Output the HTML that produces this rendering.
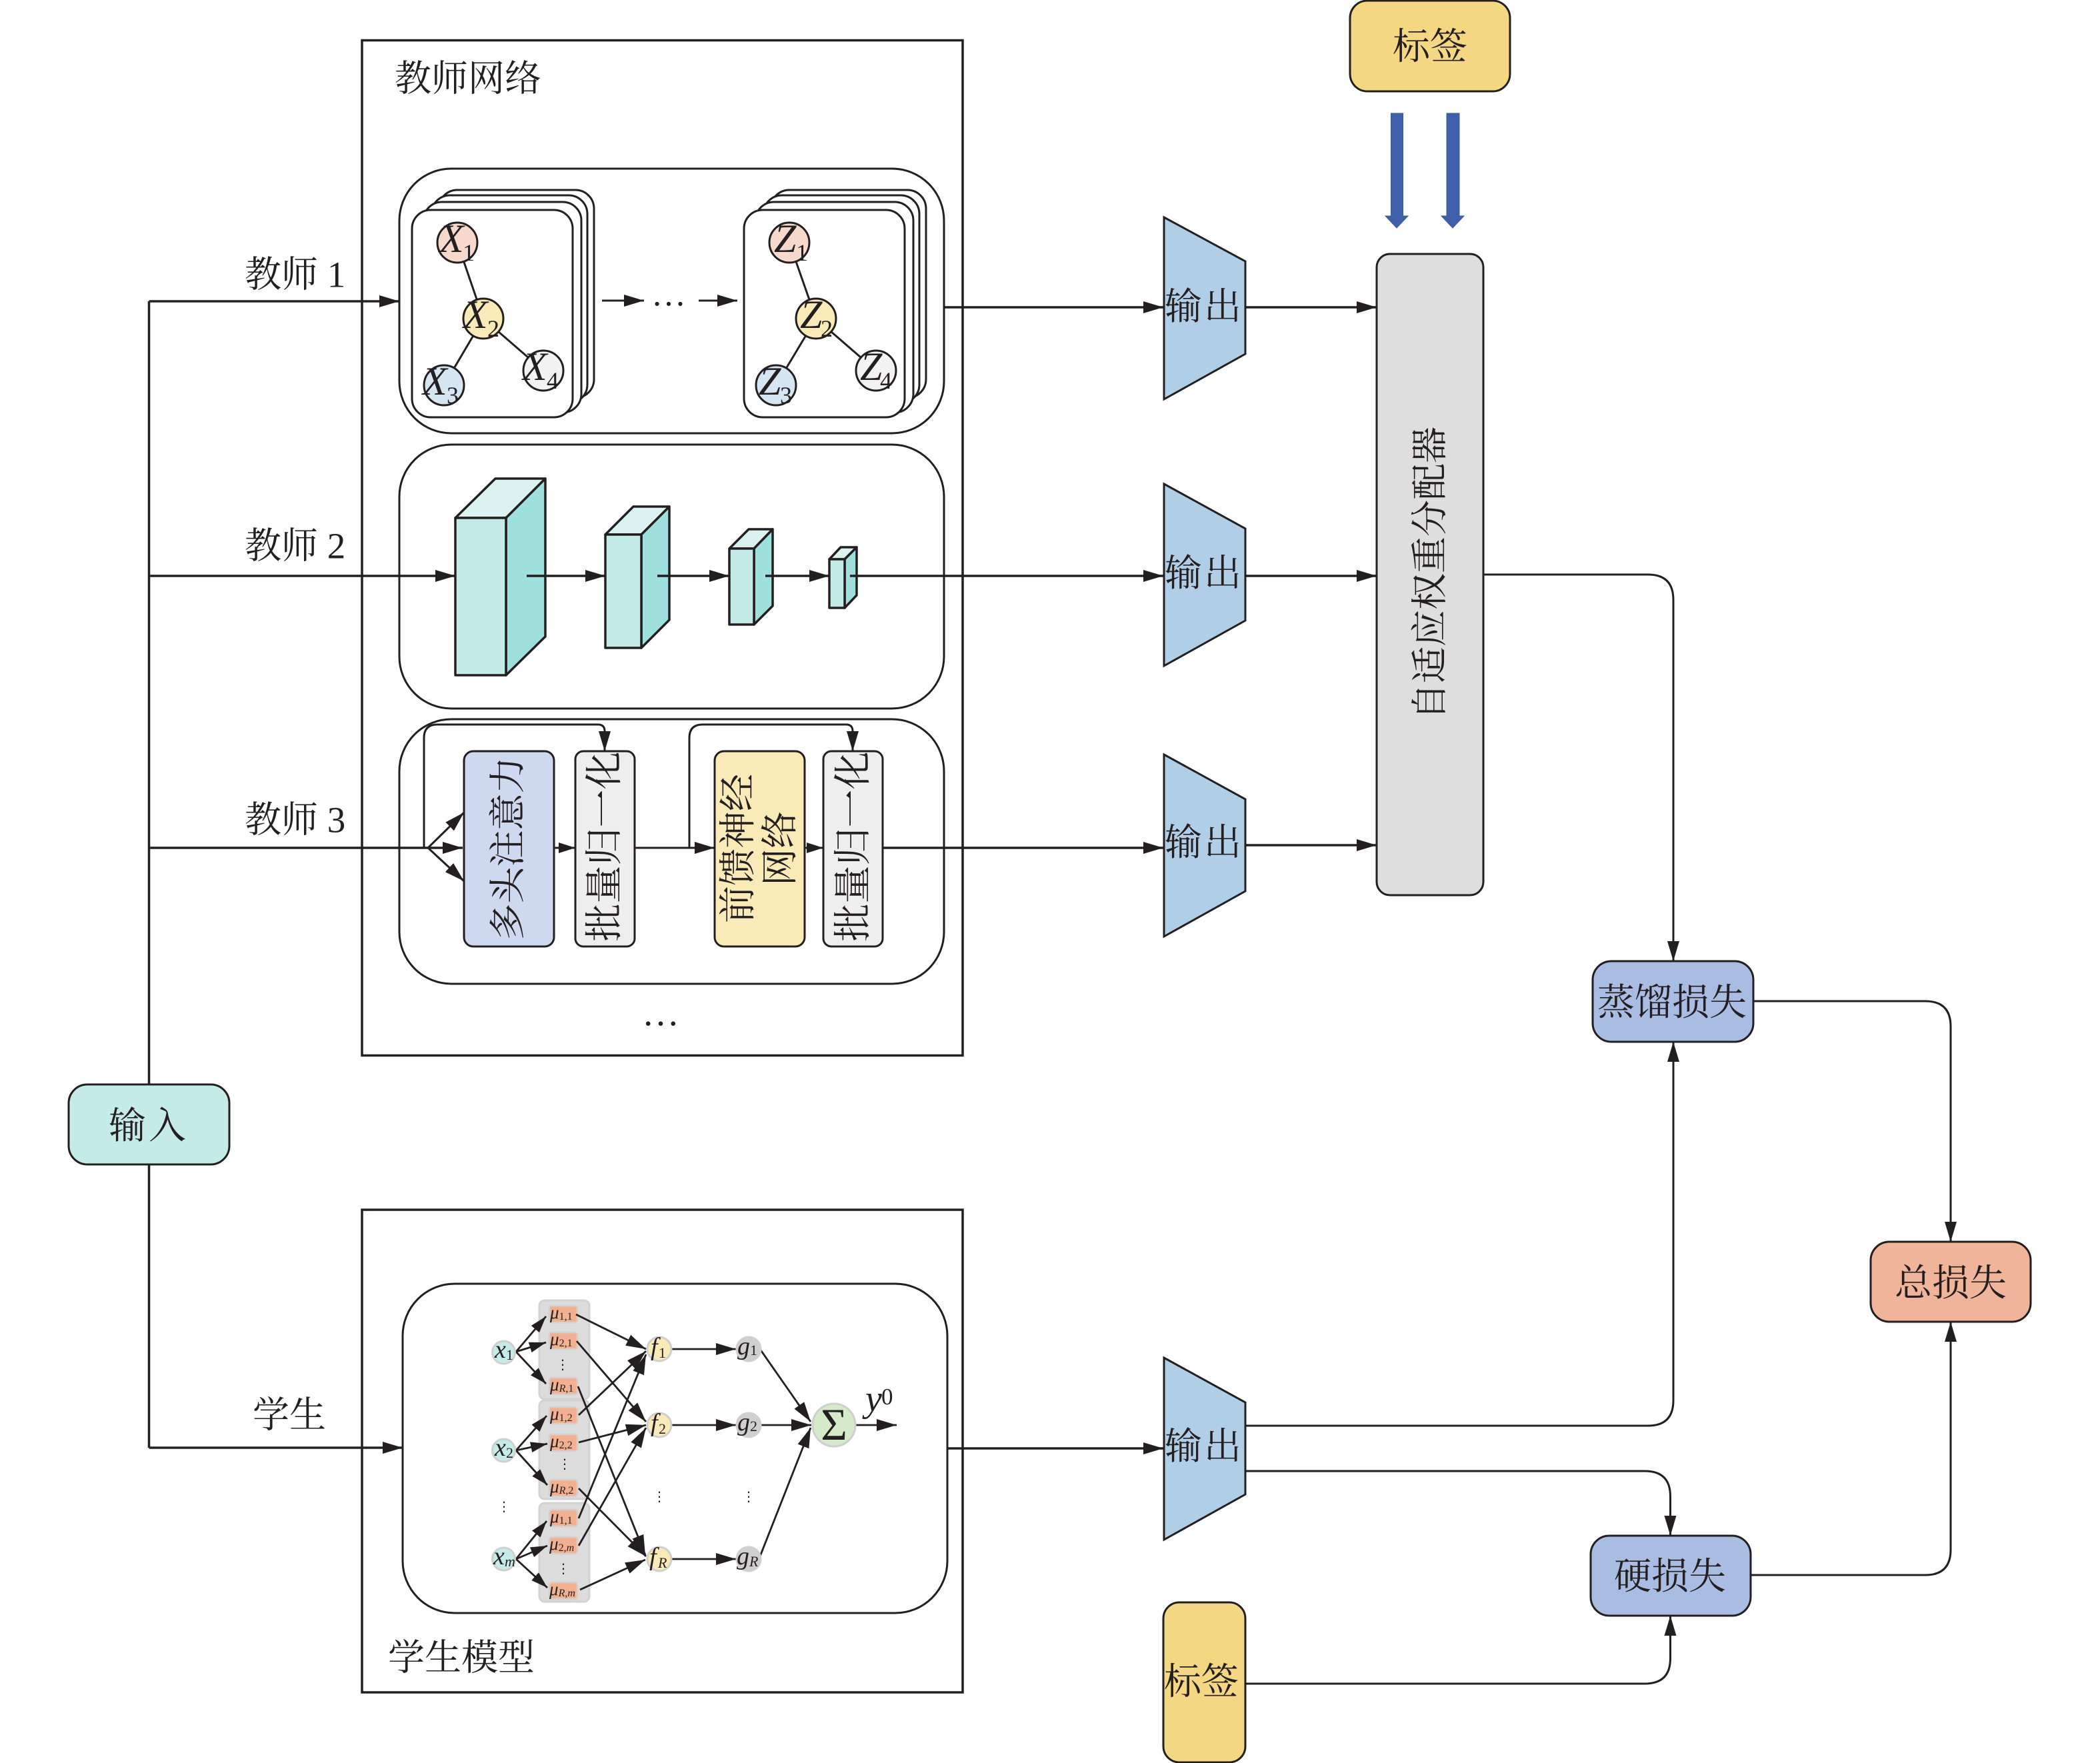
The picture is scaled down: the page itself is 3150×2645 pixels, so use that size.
<!DOCTYPE html>
<html lang="zh"><head><meta charset="utf-8"><title>diagram</title>
<style>
html,body{margin:0;padding:0;background:#fff}
svg{display:block}
text{font-family:"Liberation Serif","Noto Serif CJK SC",serif;fill:#231f20}
.c{font-size:56px;text-anchor:middle;dominant-baseline:central}
.l{font-size:55px;dominant-baseline:central}
.i{font-style:italic}
.v{font-family:"DejaVu Sans",sans-serif;font-size:20px;text-anchor:middle;dominant-baseline:central}
</style></head><body>
<svg xmlns="http://www.w3.org/2000/svg" width="3150" height="2645" viewBox="0 0 3150 2645">
<defs>
<marker id="a" markerUnits="userSpaceOnUse" markerWidth="32" markerHeight="18" refX="30" refY="9" orient="auto"><path d="M0 0L30 9L0 18Z" fill="#231f20"/></marker>
<marker id="s" markerUnits="userSpaceOnUse" markerWidth="26" markerHeight="16" refX="25" refY="8" orient="auto"><path d="M0 0L25 8L0 16Z" fill="#231f20"/></marker>
</defs>
<rect width="3150" height="2645" fill="#fff"/>

<g fill="none" stroke="#231f20" stroke-width="3">
<rect x="543" y="60.500" width="901" height="1523" stroke-width="3.500"/>
<rect x="543" y="1815" width="901" height="724" stroke-width="3.500"/>
<rect x="599" y="253" width="817" height="397" rx="78"/>
<rect x="599" y="667" width="817" height="396" rx="78"/>
<rect x="599" y="1079" width="817" height="397" rx="78"/>
<rect x="604" y="1926" width="817" height="494" rx="78"/>
</g>

<g fill="none" stroke="#231f20" stroke-width="3.500">
<path d="M223.500 1626V452"/>
<path d="M223.500 1747V2172"/>
<path d="M223.500 452H599" marker-end="url(#a)"/>
<path d="M223.500 864H683" marker-end="url(#a)"/>
<path d="M223.500 1272H694" marker-end="url(#a)"/>
<path d="M223.500 2172H604" marker-end="url(#a)"/>
<path d="M1417 461H1745" marker-end="url(#a)"/>
<path d="M1868 461H2065" marker-end="url(#a)"/>
<path d="M1868 864H2065" marker-end="url(#a)"/>
<path d="M1868 1268H2065" marker-end="url(#a)"/>
<path d="M1421 2173H1745" marker-end="url(#a)"/>
<path d="M1324 1272H1745" marker-end="url(#a)"/>
</g>
<g fill="none" stroke="#231f20" stroke-width="3">
<path d="M2225 862H2472Q2510 862 2510 900V1442" marker-end="url(#a)"/>
<path d="M2630 1502H2888Q2926 1502 2926 1540V1863" marker-end="url(#a)"/>
<path d="M1868 2139H2472Q2510 2139 2510 2101V1563" marker-end="url(#a)"/>
<path d="M1868 2207H2467Q2505.500 2207 2505.500 2245V2304" marker-end="url(#a)"/>
<path d="M1860 2526H2467Q2505.500 2526 2505.500 2488V2424" marker-end="url(#a)"/>
<path d="M2626 2363H2888Q2926 2363 2926 2325V1983" marker-end="url(#a)"/>
</g>

<g fill="#fff" stroke="#231f20" stroke-width="3">
<rect x="658" y="285" width="233" height="312" rx="28"/>
<rect x="647" y="293" width="234" height="312" rx="28"/>
<rect x="635" y="303" width="237" height="316" rx="28"/>
<rect x="618" y="315" width="241" height="311" rx="28"/>
<rect x="1156" y="285" width="233" height="312" rx="28"/>
<rect x="1145" y="293" width="234" height="312" rx="28"/>
<rect x="1133" y="303" width="237" height="316" rx="28"/>
<rect x="1116" y="315" width="241" height="311" rx="28"/>
</g>
<g stroke="#231f20" stroke-width="3" fill="none">
<path d="M686 364L725 478M725 478L666 578M725 478L815 556"/>
<path d="M1184 364L1224 478M1224 478L1164 578M1224 478L1314 556"/>
</g>
<g stroke="#231f20" stroke-width="3">
<circle cx="686" cy="364" r="30" fill="#f7d9cc"/>
<circle cx="725" cy="478" r="30" fill="#faeab8"/>
<circle cx="666" cy="578" r="30" fill="#d5e5f1"/>
<circle cx="815" cy="556" r="30" fill="#f2f2f2"/>
<circle cx="1184" cy="364" r="30" fill="#f7d9cc"/>
<circle cx="1224" cy="478" r="30" fill="#faeab8"/>
<circle cx="1164" cy="578" r="30" fill="#d5e5f1"/>
<circle cx="1314" cy="556" r="30" fill="#f2f2f2"/>
</g>
<g font-size="60">
<text x="659" y="378" class="i">X</text><text x="694" y="391" font-size="36">1</text>
<text x="695" y="492" class="i">X</text><text x="731" y="505" font-size="36">2</text>
<text x="634" y="592" class="i">X</text><text x="670" y="605" font-size="36">3</text>
<text x="784" y="570" class="i">X</text><text x="820" y="583" font-size="36">4</text>
<text x="1161" y="378" class="i">Z</text><text x="1194" y="391" font-size="36">1</text>
<text x="1200" y="492" class="i">Z</text><text x="1231" y="505" font-size="36">2</text>
<text x="1138" y="592" class="i">Z</text><text x="1170" y="605" font-size="36">3</text>
<text x="1290" y="570" class="i">Z</text><text x="1320" y="583" font-size="36">4</text>
</g>
<g fill="none" stroke="#231f20" stroke-width="3">
<path d="M903 451H966" marker-end="url(#a)"/>
<path d="M1048 451H1106" marker-end="url(#a)"/>
</g>
<text x="1003" y="442" class="c" style="font-size:52px">…</text>

<g stroke="#231f20" stroke-width="3.500" stroke-linejoin="round">
<path d="M683 777L743 718H818L759 777Z" fill="#daf3f0"/>
<path d="M759 777L818 718V955L759 1013Z" fill="#9fdfdd"/>
<rect x="683" y="777" width="76" height="236" fill="#c5ebe8"/>
<path d="M908 802L950 760H1004L962 802Z" fill="#daf3f0"/>
<path d="M962 802L1004 760V930L962 972Z" fill="#9fdfdd"/>
<rect x="908" y="802" width="54" height="170" fill="#c5ebe8"/>
<path d="M1094 823L1123 794H1159L1131 823Z" fill="#daf3f0"/>
<path d="M1131 823L1159 794V909L1131 937Z" fill="#9fdfdd"/>
<rect x="1094" y="823" width="37" height="114" fill="#c5ebe8"/>
<path d="M1244 839L1261 821H1285L1267 839Z" fill="#daf3f0"/>
<path d="M1267 839L1285 821V893L1267 912Z" fill="#9fdfdd"/>
<rect x="1244" y="839" width="23" height="73" fill="#c5ebe8"/>
</g>
<g fill="none" stroke="#231f20" stroke-width="3.500">
<path d="M790 864H908" marker-end="url(#a)"/>
<path d="M986 864H1094" marker-end="url(#a)"/>
<path d="M1148 864H1244" marker-end="url(#a)"/>
<path d="M1275 864H1745" marker-end="url(#a)"/>
</g>

<g stroke="#231f20" stroke-width="3">
<rect x="696" y="1127" width="135" height="293" rx="14" fill="#ced9f0"/>
<rect x="863" y="1127" width="89" height="293" rx="12" fill="#eeeeee"/>
<rect x="1072" y="1127" width="135" height="293" rx="14" fill="#faeab8"/>
<rect x="1235" y="1127" width="89" height="293" rx="12" fill="#eeeeee"/>
</g>
<g fill="none" stroke="#231f20" stroke-width="3">
<path d="M636 1272V1107Q636 1087 656 1087H897Q907 1087 907 1097V1127" marker-end="url(#a)"/>
<path d="M1034 1272V1107Q1034 1087 1054 1087H1269Q1279 1087 1279 1097V1127" marker-end="url(#a)"/>
<path d="M642 1272L696 1219" marker-end="url(#a)"/>
<path d="M642 1272L696 1322" marker-end="url(#a)"/>
<path d="M831 1272H863" marker-end="url(#s)"/>
<path d="M952 1272H1072" marker-end="url(#a)"/>
<path d="M1207 1272H1235" marker-end="url(#s)"/>
</g>
<text class="c" transform="translate(762 1273) rotate(-90)" style="font-size:55px">多头注意力</text>
<text class="c" transform="translate(907 1270) rotate(-90)" style="font-size:57px">批量归一化</text>
<text class="c" transform="translate(1280 1270) rotate(-90)" style="font-size:57px">批量归一化</text>
<text class="c" transform="translate(1108 1273) rotate(-90)" style="font-size:56px">前馈神经</text>
<text class="c" transform="translate(1171 1273) rotate(-90)" style="font-size:56px">网络</text>
<text x="991" y="1520" class="c">…</text>

<g fill="#b0cfe7" stroke="#231f20" stroke-width="3">
<path d="M1746 326L1868 392V531L1746 599Z"/>
<path d="M1746 726L1868 793V931L1746 999Z"/>
<path d="M1746 1132L1868 1199V1337L1746 1405Z"/>
<path d="M1746 2037L1868 2104V2242L1746 2310Z"/>
</g>
<text x="1806" y="461" class="c" letter-spacing="3">输出</text>
<text x="1806" y="861" class="c" letter-spacing="3">输出</text>
<text x="1806" y="1265" class="c" letter-spacing="3">输出</text>
<text x="1806" y="2171" class="c" letter-spacing="3">输出</text>

<g stroke="#231f20" stroke-width="3">
<rect x="2025" y="1" width="240" height="136" rx="26" fill="#f4d783"/>
<rect x="2065" y="381" width="160" height="962" rx="20" fill="#dedede"/>
<rect x="2389" y="1442" width="241" height="121" rx="28" fill="#a9bde3"/>
<rect x="2386" y="2304" width="240" height="120" rx="28" fill="#a9bde3"/>
<rect x="2806" y="1863" width="240" height="120" rx="28" fill="#f0b49a"/>
<rect x="103" y="1627" width="241" height="120" rx="28" fill="#c5ebe8"/>
<rect x="1745" y="2404" width="123" height="240" rx="24" fill="#f4d783"/>
</g>
<g fill="#3f5fa8" stroke="#3a5aa2" stroke-width="1">
<path d="M2086.500 170H2104.500V324H2112L2095 342L2078 324H2086.500Z"/>
<path d="M2170 170H2189V324H2196L2179 342L2162 324H2170Z"/>
</g>
<text x="2145" y="71" class="c">标签</text>
<text class="c" transform="translate(2145 860) rotate(-90)" style="font-size:55px">自适应权重分配器</text>
<text x="2508" y="1505" class="c">蒸馏损失</text>
<text x="2505" y="2366" class="c">硬损失</text>
<text x="2926" y="1926" class="c">总损失</text>
<text x="223" y="1690" class="c" letter-spacing="4">输入</text>
<text x="1802" y="2524" class="c">标签</text>

<text x="592" y="118" class="l">教师网络</text>
<text x="367" y="412" class="l" xml:space="preserve">教师 1</text>
<text x="367" y="819" class="l" xml:space="preserve">教师 2</text>
<text x="367" y="1230" class="l" xml:space="preserve">教师 3</text>
<text x="379" y="2123" class="l">学生</text>
<text x="582" y="2487" class="l">学生模型</text>

<g fill="#dcdcdc" stroke="#d2d2d2" stroke-width="3">
<rect x="809" y="1951" width="75" height="148" rx="8"/>
<rect x="809" y="2101" width="75" height="148" rx="8"/>
<rect x="809" y="2255" width="75" height="148" rx="8"/>
</g>
<g fill="#f3b091" stroke="#d6d0cc" stroke-width="2.500">
<rect x="824" y="1959" width="42" height="25" rx="4"/>
<rect x="824" y="1999" width="42" height="25" rx="4"/>
<rect x="824" y="2067" width="42" height="25" rx="4"/>
<rect x="824" y="2111" width="42" height="25" rx="4"/>
<rect x="824" y="2152" width="42" height="25" rx="4"/>
<rect x="824" y="2220" width="42" height="25" rx="4"/>
<rect x="824" y="2265" width="42" height="25" rx="4"/>
<rect x="824" y="2306" width="42" height="25" rx="4"/>
<rect x="824" y="2374" width="42" height="25" rx="4"/>
</g>
<g fill="none" stroke="#231f20" stroke-width="2.800">
<path d="M774 2028L819 1975" marker-end="url(#s)"/>
<path d="M774 2028L819 2014" marker-end="url(#s)"/>
<path d="M774 2028L819 2076" marker-end="url(#s)"/>
<path d="M774 2176L820 2124" marker-end="url(#s)"/>
<path d="M774 2176L821 2166" marker-end="url(#s)"/>
<path d="M774 2176L821 2228" marker-end="url(#s)"/>
<path d="M774 2339L820 2282" marker-end="url(#s)"/>
<path d="M774 2339L821 2319" marker-end="url(#s)"/>
<path d="M774 2339L821 2382" marker-end="url(#s)"/>
<path d="M864 1972L969 2024" marker-end="url(#a)"/>
<path d="M865 2012L969 2133" marker-end="url(#a)"/>
<path d="M867 2080L968 2333" marker-end="url(#a)"/>
<path d="M868 2123L969 2027" marker-end="url(#a)"/>
<path d="M868 2164L969 2138" marker-end="url(#a)"/>
<path d="M868 2233L969 2335" marker-end="url(#a)"/>
<path d="M868 2278L969 2032" marker-end="url(#a)"/>
<path d="M868 2319L969 2142" marker-end="url(#a)"/>
<path d="M870 2385L968 2340" marker-end="url(#a)"/>
<path d="M1007 2024H1104" marker-end="url(#a)"/>
<path d="M1007 2138H1104" marker-end="url(#a)"/>
<path d="M1007 2339H1104" marker-end="url(#a)"/>
<path d="M1140 2024L1216 2133" marker-end="url(#a)"/>
<path d="M1140 2138H1217" marker-end="url(#a)"/>
<path d="M1140 2335L1216 2142" marker-end="url(#a)"/>
<path d="M1283 2138H1345" marker-end="url(#a)"/>
</g>
<g stroke="#cfcfcf" stroke-width="3">
<circle cx="755.500" cy="2029" r="17" fill="#c5ebe8"/>
<circle cx="755.500" cy="2176" r="17" fill="#c5ebe8"/>
<circle cx="755.500" cy="2339" r="17" fill="#c5ebe8"/>
<circle cx="989" cy="2024" r="18" fill="#faeab8"/>
<circle cx="989" cy="2138" r="18" fill="#faeab8"/>
<circle cx="989" cy="2339" r="18" fill="#faeab8"/>
<circle cx="1123" cy="2024" r="18" fill="#cfcfcf"/>
<circle cx="1123" cy="2138" r="18" fill="#cfcfcf"/>
<circle cx="1123" cy="2339" r="18" fill="#cfcfcf"/>
<circle cx="1251" cy="2138" r="32" fill="#d5eac8"/>
</g>
<g font-size="38">
<text x="742" y="2037" class="i">x</text><text x="759" y="2040" font-size="22">1</text>
<text x="742" y="2184" class="i">x</text><text x="759" y="2187" font-size="22">2</text>
<text x="740" y="2347" class="i">x</text><text x="757" y="2350" font-size="22" class="i">m</text>
<text x="976" y="2033" class="i">f</text><text x="988" y="2037" font-size="22">1</text>
<text x="976" y="2147" class="i">f</text><text x="988" y="2151" font-size="22">2</text>
<text x="974" y="2348" class="i">f</text><text x="987" y="2352" font-size="22" class="i">R</text>
<text x="1106" y="2032" class="i">g</text><text x="1125" y="2033" font-size="22">1</text>
<text x="1106" y="2146" class="i">g</text><text x="1125" y="2147" font-size="22">2</text>
<text x="1105" y="2347" class="i">g</text><text x="1124" y="2350" font-size="22" class="i">R</text>
</g>
<g font-size="27">
<text x="825" y="1978" class="i">μ<tspan font-size="16" font-style="normal" dy="2">1,1</tspan></text>
<text x="825" y="2018" class="i">μ<tspan font-size="16" font-style="normal" dy="2">2,1</tspan></text>
<text x="825" y="2086" class="i">μ<tspan font-size="16" dy="2">R</tspan><tspan font-size="16" font-style="normal">,1</tspan></text>
<text x="825" y="2130" class="i">μ<tspan font-size="16" font-style="normal" dy="2">1,2</tspan></text>
<text x="825" y="2171" class="i">μ<tspan font-size="16" font-style="normal" dy="2">2,2</tspan></text>
<text x="825" y="2239" class="i">μ<tspan font-size="16" dy="2">R</tspan><tspan font-size="16" font-style="normal">,2</tspan></text>
<text x="825" y="2284" class="i">μ<tspan font-size="16" font-style="normal" dy="2">1,1</tspan></text>
<text x="824" y="2325" class="i">μ<tspan font-size="16" font-style="normal" dy="2">2,</tspan><tspan font-size="16">m</tspan></text>
<text x="824" y="2393" class="i">μ<tspan font-size="16" dy="2">R</tspan><tspan font-size="16" font-style="normal">,</tspan><tspan font-size="16">m</tspan></text>
</g>
<text class="v" x="844" y="2047">⋮</text>
<text class="v" x="847" y="2196">⋮</text>
<text class="v" x="845" y="2353">⋮</text>
<text class="v" x="756" y="2260">⋮</text>
<text class="v" x="989" y="2245">⋮</text>
<text class="v" x="1123" y="2245">⋮</text>
<text x="1251" y="2137" class="c" style="font-size:68px">Σ</text>
<text x="1298" y="2117" font-size="56" class="i">y</text>
<text x="1322" y="2107" font-size="35">0</text>
</svg>
</body></html>
